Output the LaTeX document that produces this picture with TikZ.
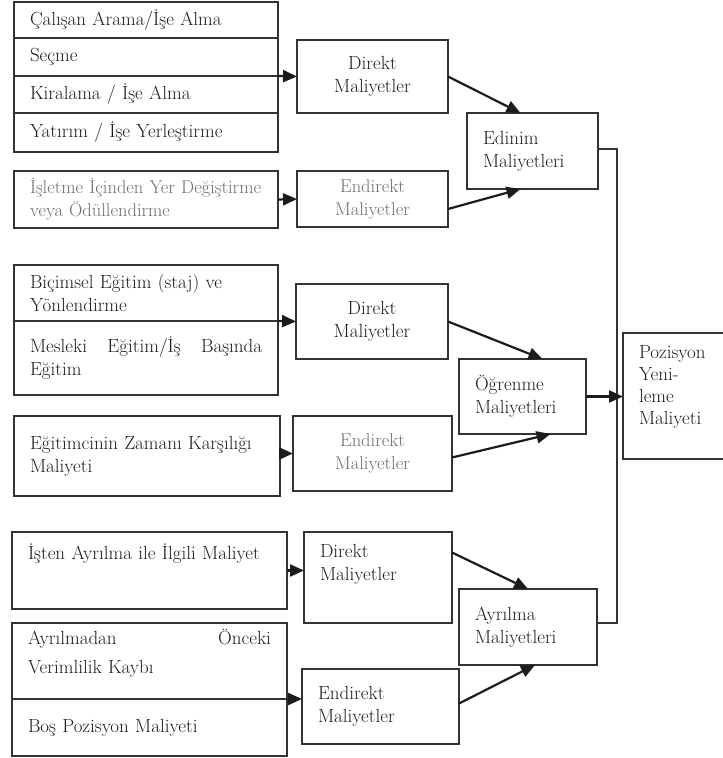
\documentclass[tikz,border=0pt]{standalone}
\usepackage{fontspec}
\usetikzlibrary{positioning,arrows.meta}

\definecolor{ink}{HTML}{1C1C1C}
\definecolor{boxline}{HTML}{333333}
\definecolor{faintink}{HTML}{6E6E6E}

\begin{document}
\begin{tikzpicture}[
  x=1pt, y=-1pt,
  font=\fontsize{19}{23}\selectfont,
  part/.style={draw=boxline, line width=1.4pt, anchor=north west, outer sep=0pt,
    inner xsep=16pt, inner ysep=4pt, align=left, text=ink},
  cost/.style={part, align=center},
  faint/.style={text=faintink, font=\fontsize{18.5}{23}\selectfont},
  edge/.style={-{Triangle[length=14pt,width=12pt]}, line width=2.2pt, draw=ink},
  link/.style={draw=boxline, line width=1.4pt}
]
  \useasboundingbox (0,0) rectangle (723,758);

  % acquisition
  \node[part, text width=232pt, minimum height=36pt] (r1) at (14,2) {Çalışan Arama/İşe Alma};
  \node[part, text width=232pt, minimum height=38pt, below=0pt of r1] (r2) {Seçme};
  \node[part, text width=232pt, minimum height=37pt, below=0pt of r2] (r3) {Kiralama / İşe Alma};
  \node[part, text width=232pt, minimum height=39pt, below=0pt of r3] (r4) {Yatırım / İşe Yerleştirme};
  \node[part, faint, text width=232pt, minimum height=57pt] (isl) at (14,171) {İşletme İçinden Yer Değiştirme\\veya Ödüllendirme};
  \node[cost, text width=119pt, minimum height=73pt] (dA) at (297,40) {Direkt\\Maliyetler};
  \node[cost, faint, text width=119pt, minimum height=56pt] (eA) at (297,171) {Endirekt\\Maliyetler};
  \node[part, text width=99pt, minimum height=76pt] (edinim) at (467,113) {Edinim\\Maliyetleri};

  % learning
  \node[part, text width=232pt, minimum height=56pt] (bic) at (14,265) {Biçimsel Eğitim (staj) ve\\Yönlendirme};
  \node[part, text width=232pt, minimum height=74pt, below=0pt of bic] (mes) {Mesleki\hspace{0pt plus 1filll}Eğitim/İş\hspace{0pt plus 1filll}Başında\\Eğitim};
  \node[part, text width=234pt, minimum height=80pt] (egt) at (14,416) {Eğitimcinin Zamanı Karşılığı\\Maliyeti};
  \node[cost, text width=120pt, minimum height=75pt] (dB) at (296,284) {Direkt\\Maliyetler};
  \node[cost, faint, text width=127pt, minimum height=75pt] (eB) at (293,416) {Endirekt\\Maliyetler};
  \node[part, text width=95pt, minimum height=75pt] (ogr) at (459,359) {Öğrenme\\Maliyetleri};

  % total
  \node[part, text width=72pt, minimum height=126pt, text depth=88pt,
    font=\fontsize{19}{22}\selectfont] (poz) at (623,333) {Pozisyon\\Yeni-\\leme\\Maliyeti};

  % separation
  \node[part, text width=243pt, minimum height=77pt, text depth=38pt] (ist) at (12,532) {İşten Ayrılma ile İlgili Maliyet};
  \node[part, text width=243pt, minimum height=76pt, text depth=48pt] (ayn) at (12,623) {Ayrılmadan\hspace{0pt plus 1filll}Önceki\\[6pt]Verimlilik Kaybı};
  \node[part, text width=243pt, minimum height=57pt, below=0pt of ayn] (bos) {Boş Pozisyon Maliyeti};
  \node[part, text width=116pt, minimum height=91pt, text depth=53pt] (dC) at (304,532) {Direkt\\Maliyetler};
  \node[part, text width=125pt, minimum height=75pt] (eC) at (302,669) {Endirekt\\Maliyetler};
  \node[part, text width=106pt, minimum height=76pt] (ayr) at (459,589) {Ayrılma\\Maliyetleri};

  \draw[link] ([yshift=2pt]edinim.east) -- ++(19,0) |- ([yshift=4pt]ayr.east);

  \draw[edge] (r2.south east) -- (dA.west);
  \draw[edge] (isl.east) -- (eA.west);
  \draw[edge] (dA.east) -- ([xshift=-12pt]edinim.north);
  \draw[edge] ([yshift=-10pt]eA.east) -- ([xshift=-12pt]edinim.south);

  \draw[edge] (bic.south east) -- (dB.west);
  \draw[edge] (eB.west -| egt.east) -- (eB.west);
  \draw[edge] (dB.east) -- ([xshift=20pt]ogr.north);
  \draw[edge] ([yshift=-4pt]eB.east) -- ([xshift=28pt]ogr.south);
  \draw[edge] (ogr.east) -- (ogr.east -| poz.west);

  \draw[edge] (ist.east) -- (ist.east -| dC.west);
  \draw[edge] (ayn.south east) -- (ayn.south east -| eC.west);
  \draw[edge] ([yshift=25pt]dC.east) -- (ayr.north);
  \draw[edge] ([yshift=3pt]eC.east) -- ([xshift=7pt]ayr.south);
\end{tikzpicture}
\end{document}
